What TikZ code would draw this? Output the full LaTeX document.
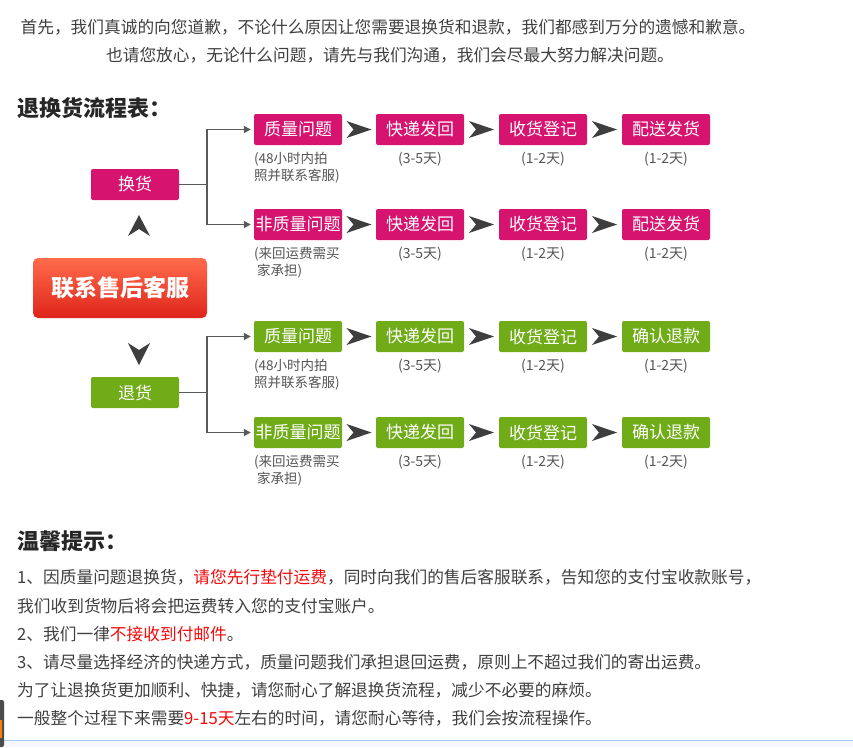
\documentclass[tikz,border=0pt]{standalone}
\usepackage{fontspec}
\setmainfont{Noto Sans CJK SC}
\usetikzlibrary{arrows.meta,calc}
\definecolor{mag}{RGB}{214,20,112}
\definecolor{grn}{RGB}{112,172,24}
\definecolor{txt}{RGB}{64,64,64}
\definecolor{capc}{RGB}{85,85,85}
\definecolor{chev}{RGB}{62,62,62}
\definecolor{connc}{RGB}{90,90,90}
\definecolor{redt}{RGB}{245,10,10}
\definecolor{redtop}{RGB}{255,108,76}
\definecolor{redbot}{RGB}{222,36,26}
\tikzset{
  boxbase/.style={rounded corners=2pt, minimum width=88pt, minimum height=31pt, inner sep=0pt, text=white, font=\fontsize{17pt}{17pt}\selectfont},
  mbox/.style={boxbase, fill=mag},
  gbox/.style={boxbase, fill=grn},
  captxt/.style={text=capc, inner sep=0pt, font=\fontsize{13.5pt}{13.5pt}\selectfont},
  stepcap/.style={captxt, font=\fontsize{14pt}{14pt}\selectfont},
  bodytxt/.style={text=txt, inner sep=0pt, anchor=west, font=\fontsize{16.7pt}{16.7pt}\selectfont},
  headtxt/.style={text=black!85, inner sep=0pt, anchor=west, font=\fontsize{22pt}{22pt}\selectfont\bfseries},
  conn/.style={draw=connc, line width=1.5pt, -{Triangle[length=7pt,width=7pt]}, shorten >=3pt},
  chevr/.pic={\fill[chev] (-12.5,-8.5) -- (12.5,0) -- (-12.5,8.5) -- (-5.5,0) -- cycle;}
}
\begin{document}
\begin{tikzpicture}[x=1pt,y=-1pt]
\useasboundingbox (0,0) rectangle (853,747);
\fill[white] (0,0) rectangle (853,747);
% top text
\node[bodytxt, anchor=center] (intro1) at (388,27) {首先，我们真诚的向您道歉，不论什么原因让您需要退换货和退款，我们都感到万分的遗憾和歉意。};
\node[bodytxt, anchor=center] (intro2) at (390,55) {也请您放心，无论什么问题，请先与我们沟通，我们会尽最大努力解决问题。};
% title
\node[headtxt] (title) at (17,108) {退换货流程表：};
% main red button
\node[rounded corners=5pt, top color=redtop, bottom color=redbot, minimum width=174pt, minimum height=60pt, inner sep=0pt, text=white, font=\fontsize{23pt}{23pt}\selectfont\bfseries] (svc) at (120,288) {联系售后客服};
% branch nodes
\node[mbox] (hh) at (135,184.5) {换货};
\node[gbox] (th) at (135,392.5) {退货};
% chevrons up/down
\fill[chev] (139,215) -- (150,236) -- (139,229) -- (128,236) -- cycle;
\fill[chev] (128,343) -- (139,350) -- (150,343) -- (139,365) -- cycle;
% rows
\foreach \r/\y/\sty/\first/\last in {1/129.5/mbox/质量问题/配送发货, 2/224.5/mbox/非质量问题/配送发货, 3/336.5/gbox/质量问题/确认退款, 4/432.5/gbox/非质量问题/确认退款}{
  \node[\sty] (r\r a) at (298,\y) {\first};
  \node[\sty] (r\r b) at (420,\y) {快递发回};
  \node[\sty] (r\r c) at (543,\y) {收货登记};
  \node[\sty] (r\r d) at (666,\y) {\last};
  \pic at ($(r\r a.east)!0.5!(r\r b.west)$) {chevr};
  \pic at ($(r\r b.east)!0.5!(r\r c.west)$) {chevr};
  \pic at ($(r\r c.east)!0.5!(r\r d.west)$) {chevr};
  \node[stepcap] (r\r bn) at ($(r\r b.south)+(0,13.5)$) {(3-5天)};
  \node[stepcap] (r\r cn) at ($(r\r c.south)+(0,13.5)$) {(1-2天)};
  \node[stepcap] (r\r dn) at ($(r\r d.south)+(0,13.5)$) {(1-2天)};
}
% first-column notes
\foreach \r in {1,3}{
  \node[captxt, anchor=west] (r\r n1) at ($(r\r a.south west)+(0,13.5)$) {(48小时内拍};
  \node[captxt, anchor=west] (r\r n2) at ($(r\r a.south west)+(0,31)$) {照并联系客服)};
}
\foreach \r in {2,4}{
  \node[captxt, anchor=west] (r\r n1) at ($(r\r a.south west)+(0,14)$) {(来回运费需买};
  \node[captxt, anchor=west] (r\r n2) at ($(r\r a.south west)+(3,31)$) {家承担)};
}
% connectors
\draw[conn] (hh.east) -- ++(28,0) |- (r1a.west);
\draw[conn] (hh.east) -- ++(28,0) |- (r2a.west);
\draw[conn] (th.east) -- ++(28,0) |- (r3a.west);
\draw[conn] (th.east) -- ++(28,0) |- (r4a.west);
% tips
\node[headtxt] (tiph) at (17,541) {温馨提示：};
\node[bodytxt] (t1) at (17,577) {1、因质量问题退换货，\textcolor{redt}{请您先行垫付运费}，同时向我们的售后客服联系，告知您的支付宝收款账号，};
\node[bodytxt] (t2) at (17,606) {我们收到货物后将会把运费转入您的支付宝账户。};
\node[bodytxt] (t3) at (17,634) {2、我们一律\textcolor{redt}{不接收到付邮件}。};
\node[bodytxt] (t4) at (17,662) {3、请尽量选择经济的快递方式，质量问题我们承担退回运费，原则上不超过我们的寄出运费。};
\node[bodytxt] (t5) at (17,690) {为了让退换货更加顺利、快捷，请您耐心了解退换货流程，减少不必要的麻烦。};
\node[bodytxt] (t6) at (17,718) {一般整个过程下来需要\textcolor{redt}{9-15天}左右的时间，请您耐心等待，我们会按流程操作。};
% bottom strip
\fill[blue!3] (0,740) rectangle (853,747);
\draw[draw={rgb,255:red,170;green,200;blue,240}, line width=1pt] (0,740) -- (853,740);
% left-edge element
\fill[rounded corners=2pt, black!70] (-5,700) rectangle (4,747);
\fill[orange] (-3,720) rectangle (2,738);
\end{tikzpicture}
\end{document}
